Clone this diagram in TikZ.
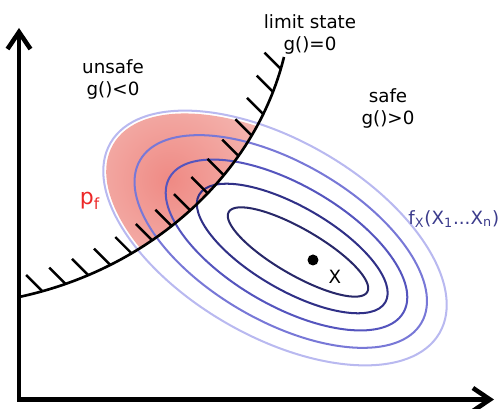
\documentclass[tikz,border=0pt]{standalone}
\usepackage{fontspec}
\setmainfont{DejaVu Sans}
\usetikzlibrary{arrows.meta,decorations.markings}
\definecolor{ringA}{RGB}{40,40,105}
\definecolor{ringB}{RGB}{48,48,135}
\definecolor{ringC}{RGB}{85,85,190}
\definecolor{ringD}{RGB}{120,120,215}
\definecolor{ringE}{RGB}{185,185,240}
\definecolor{pfred}{RGB}{236,40,40}
\definecolor{pfin}{RGB}{239,138,132}
\definecolor{pfout}{RGB}{248,212,207}
\definecolor{fxblue}{RGB}{60,60,140}
\newcommand{\isoline}[2]{
  \pgfmathsetmacro{\cx}{298-23*#1}
  \pgfmathsetmacro{\cy}{157+14*#1}
  \pgfmathsetmacro{\ra}{80+110*#1}
  \pgfmathsetmacro{\rb}{23+75*#1}
  \draw[#2,line width=1.15pt,rotate around={-30:(\cx,\cy)}] (\cx,\cy) ellipse [x radius=\ra,y radius=\rb];
}
\tikzset{
  lbl/.style={font=\fontsize{10.4}{12.5}\selectfont,align=center,inner sep=0pt},
  axis/.style={line width=2.6pt,line join=miter,<->,>={Straight Barb[length=3.4mm,width=4.6mm]}},
  hatched/.style={line width=1.5pt,postaction={decorate,decoration={markings,
    mark=between positions 0.064 and 0.97 step 0.0645 with {\pgftransformresetnontranslations
      \draw[line width=1.4pt] (0,0) -- (135:0.46cm);}}}}
}
\begin{document}
\begin{tikzpicture}[x=0.02cm,y=0.02cm]
  \useasboundingbox (0,0) rectangle (498,409);
  \coordinate (O) at (19,9.5);
  \coordinate (ytip) at (19,381);
  \coordinate (xtip) at (494,9.5);
  \coordinate (lsA) at (19,112);
  \coordinate (lsB) at (284,352);
  \begin{scope}
    \clip[rotate around={-30:(275,171)}] (275,171) ellipse [x radius=187,y radius=95];
    \clip (lsA) .. controls (150,140) and (255,234) .. (lsB) -- (284,409) -- (0,409) -- (0,112) -- cycle;
    \shade[inner color=pfin,outer color=pfout] (170,229) circle (170);
  \end{scope}
  \foreach \t/\c in {0/ringA,0.25/ringB,0.5/ringC,0.75/ringD,1/ringE}{\isoline{\t}{\c}}
  \draw[hatched] (lsA) .. controls (150,140) and (255,234) .. (lsB);
  \draw[axis] (ytip) -- (O) -- (xtip);
  \node[circle,fill,inner sep=0pt,minimum size=0.22cm] (mu) at (313,149) {};
  \node[lbl] (xlab) at (335,132) {X};
  \node[lbl] (limit) at (310,375) {limit state\\g()=0};
  \node[lbl] (unsafe) at (113,330) {unsafe\\g()<0};
  \node[lbl] (safe) at (388,301) {safe\\g()>0};
  \node[lbl,font=\fontsize{12.5}{14}\selectfont,text=pfred] (pf) at (90,208) {p\textsubscript{f}};
  \node[lbl,text=fxblue,anchor=west] (fx) at (408,190) {f\textsubscript{X}(X\textsubscript{1}...X\textsubscript{n})};
\end{tikzpicture}
\end{document}
